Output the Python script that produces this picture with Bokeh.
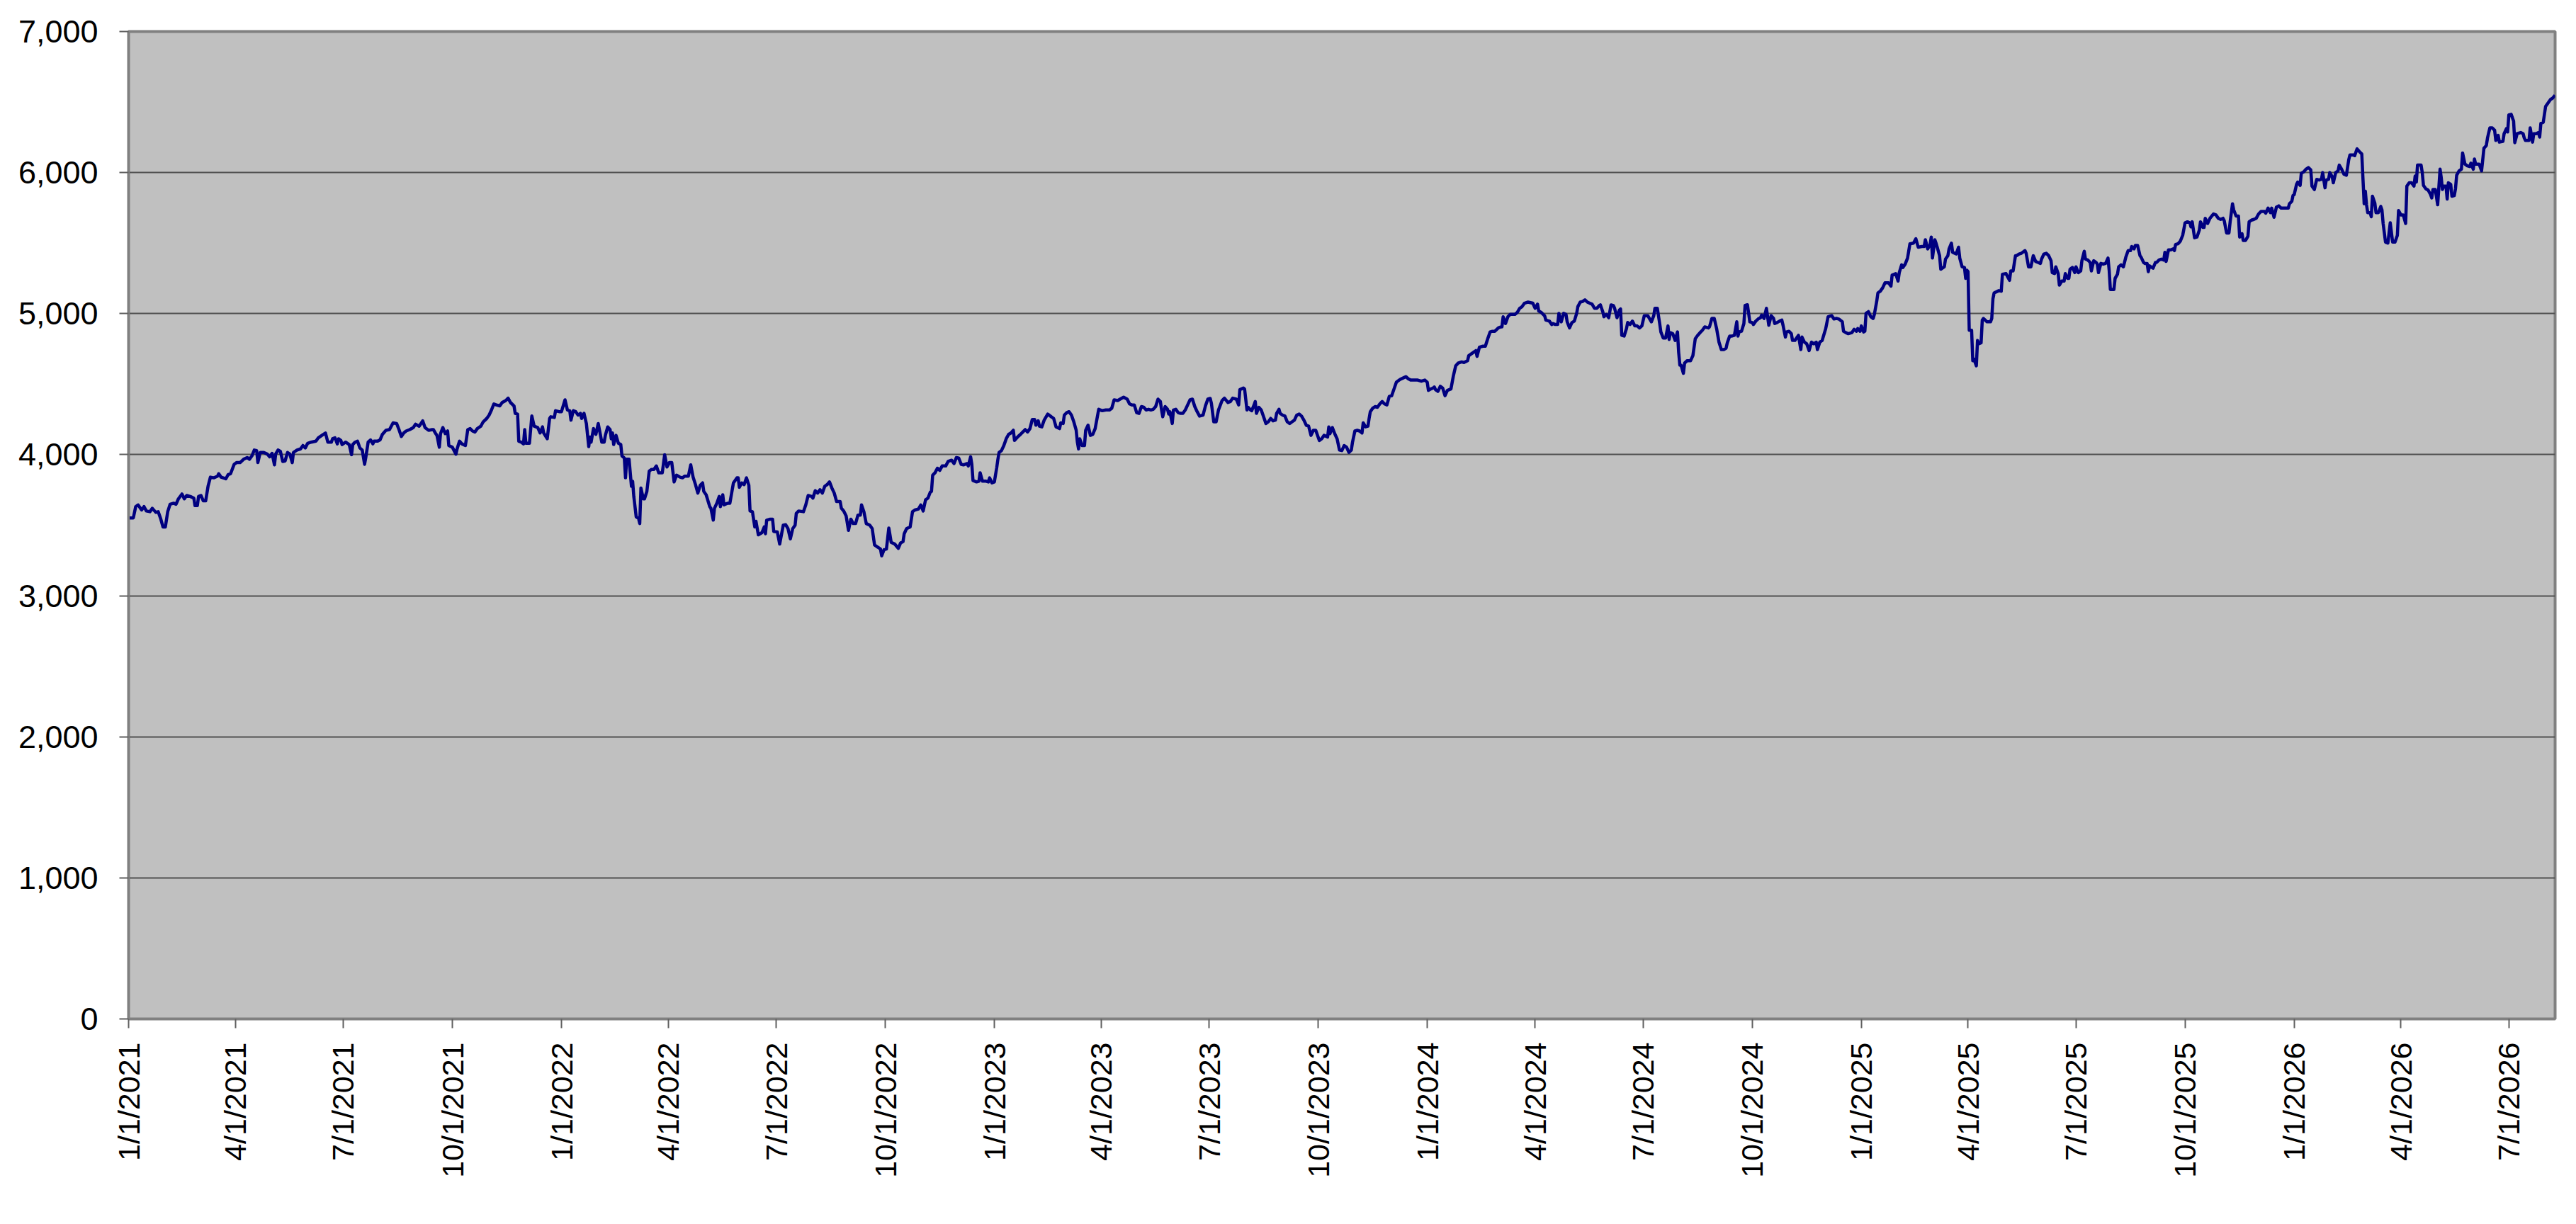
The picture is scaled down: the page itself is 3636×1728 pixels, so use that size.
import math
import pandas as pd
from bokeh.plotting import figure
from bokeh.models import Range1d, FixedTicker, NumeralTickFormatter, ColumnDataSource
from bokeh.embed import file_html
from bokeh.resources import INLINE

# ---------------- data ----------------
start_date = pd.Timestamp("2021-01-01")

# calendar days since start_date
days = [
    0, 4, 6, 8, 11, 13, 15, 18, 20, 23, 25, 27, 29, 31, 33, 35, 38, 40, 42, 45,
    47, 49, 52, 55, 56, 58, 59, 61, 63, 65, 67, 69, 72, 75, 76, 78, 82, 84, 86, 89,
    91, 94, 97, 100, 102, 104, 106, 108, 109, 111, 114, 117, 119, 121, 123, 124, 126, 128, 130, 132,
    134, 136, 138, 139, 142, 145, 147, 149, 151, 154, 158, 160, 163, 166, 168, 171, 172, 174, 176, 177,
    179, 180, 183, 186, 188, 189, 191, 193, 195, 197, 199, 200, 202, 204, 206, 207, 210, 212, 214, 217,
    220, 223, 226, 228, 230, 232, 234, 237, 240, 242, 245, 248, 250, 253, 256,
    257, 259, 260, 262, 263, 265, 267, 269, 270, 273, 276, 277, 279, 281, 284, 286, 288, 290, 292, 294,
    297, 299, 302, 304, 306, 308, 310, 313, 315, 318, 320, 322, 325, 326, 328, 329, 331, 333, 334, 335,
    338, 340, 342, 345, 347, 349, 350, 353, 355, 356, 359, 360, 363, 365, 368, 370, 372, 373, 375, 377,
    379, 381, 382, 384, 386, 388, 389, 390, 392, 394, 396, 399, 401, 402, 404, 406, 407, 408, 409, 411,
    413, 415, 416, 418, 419, 420, 422, 424, 425, 426, 428, 430, 431, 432, 434, 435, 437, 439, 441, 443,
    445, 447, 450, 452, 454, 456, 458, 460, 462, 465, 467, 469, 472, 474, 476, 478, 480, 482, 484, 485,
    487, 490, 491, 493, 494, 496, 498, 499, 501, 502, 505, 507, 510, 513,
    514, 515, 517, 519, 521, 523, 524, 526, 528, 529, 531, 534, 536, 537, 538, 541, 543, 544, 547, 549,
    552, 554, 556, 558, 560, 562, 563, 565, 569, 571, 573, 576, 577, 579, 581, 583, 585, 587, 589, 591,
    593, 595, 597, 600, 601, 603, 605, 607, 609, 611, 613, 615, 617, 618, 620, 622, 625, 627, 629, 632,
    634, 635, 637, 639, 641, 642, 643, 646, 649, 651, 653, 654, 656, 659, 661, 663, 666, 668, 670, 672,
    674, 676, 677, 678, 680, 682, 684, 686, 689, 691, 694, 696, 698, 700, 702, 704, 707, 708, 710, 711,
    712, 715, 717, 718, 720, 723, 725, 726, 728, 730, 732, 733, 734, 736, 738, 740, 742, 744, 746, 747,
    750, 752, 754, 756, 758, 760, 762, 764, 765, 767, 768, 770,
    772, 775, 778, 780, 782, 785, 786, 788, 789,
    791, 793, 795, 797, 799, 800, 801, 802, 804, 806, 807, 809, 811, 813, 815, 818, 821, 824, 827, 829,
    831, 834, 836, 839, 842, 844, 846, 848, 850, 852, 854, 856, 858, 860, 862, 864, 866, 868, 870, 871,
    872, 874, 876, 877, 878, 880, 881, 883, 885, 887, 889, 891, 893, 895, 897, 899, 901, 903, 906, 908,
    910, 912, 913, 915, 917, 919, 922, 924, 927, 929, 931, 934, 936, 937, 940, 941, 943, 944, 946, 947,
    949, 950, 951, 953, 955, 957, 959, 961, 963, 965, 967, 968, 970, 971, 973, 975, 977, 979, 981, 983,
    985, 987, 989, 991, 993, 995, 997, 999, 1001, 1004, 1006, 1008, 1011, 1012, 1013, 1015, 1017, 1019, 1021, 1023,
    1025, 1027,
    1029, 1031, 1032, 1034, 1036, 1038, 1040, 1041, 1043,
    1045, 1046, 1047, 1049, 1051, 1053, 1055, 1057, 1059, 1061, 1063, 1065, 1067, 1069, 1072, 1075, 1077, 1079, 1081, 1084,
    1087, 1090, 1093, 1095, 1096, 1098, 1100, 1101, 1102, 1104, 1106, 1108, 1110, 1112, 1115, 1117, 1119, 1121, 1124, 1126,
    1129, 1130, 1134, 1136, 1137, 1139, 1142, 1144, 1146, 1148, 1150, 1152, 1155, 1157, 1158, 1159, 1161, 1163, 1165, 1167,
    1169, 1171, 1173, 1175, 1177, 1180, 1184, 1186, 1188, 1189, 1191, 1194, 1195, 1198, 1200, 1201, 1203, 1205, 1206, 1208,
    1210, 1212, 1213, 1215, 1217, 1219, 1221, 1222, 1224, 1226, 1228, 1230, 1232, 1234, 1236, 1238, 1240, 1241, 1243, 1244,
    1246, 1248, 1250, 1252, 1253, 1255, 1257, 1258, 1259, 1261, 1263, 1264, 1266, 1268, 1270, 1272, 1274, 1276, 1278, 1281,
    1282, 1284,
    1286, 1287, 1289, 1291, 1292, 1294, 1296, 1298, 1299,
    1300, 1302, 1304, 1306, 1307, 1308, 1309, 1311, 1312, 1314, 1317, 1319, 1321, 1323, 1325, 1327, 1329, 1332, 1333, 1335,
    1337, 1339, 1341, 1343, 1345, 1347, 1348, 1350, 1352, 1354, 1356, 1357, 1358, 1360, 1362, 1363, 1365, 1367, 1369, 1370,
    1372, 1374, 1376, 1377, 1379, 1381, 1382, 1383, 1385, 1387, 1388, 1390, 1392, 1394, 1395, 1397, 1398, 1400, 1402, 1403,
    1405, 1407, 1408, 1410, 1411, 1413, 1415, 1417, 1419, 1421, 1423, 1424, 1426, 1428, 1431, 1433, 1436, 1438, 1440, 1442,
    1445, 1446, 1448, 1450, 1453, 1455, 1457, 1458, 1460, 1461, 1463, 1464, 1465, 1467, 1469, 1471, 1472, 1474, 1475, 1477,
    1479, 1481, 1484, 1486, 1487, 1490, 1492, 1493, 1495, 1496, 1498, 1500, 1502, 1505, 1507, 1509, 1512, 1514, 1515, 1517,
    1519, 1520, 1521, 1523, 1524, 1525, 1527, 1528, 1531, 1532, 1534, 1535, 1537, 1538, 1541,
    1543, 1544, 1546, 1548, 1549, 1550, 1551, 1552, 1554,
    1555, 1556, 1558, 1559, 1560, 1562, 1563, 1564, 1567, 1570, 1571, 1572, 1573, 1576, 1577, 1579, 1580, 1583, 1584, 1586,
    1587, 1589, 1591, 1592, 1594, 1596, 1599, 1600, 1602, 1604, 1606, 1608, 1610, 1612, 1613, 1615, 1617, 1619, 1621, 1622,
    1624, 1625, 1627, 1628, 1630, 1632, 1633, 1635, 1636, 1637, 1639, 1641, 1642, 1644, 1646, 1647, 1649, 1650, 1652, 1654,
    1655, 1657, 1659, 1660, 1661, 1663, 1665, 1667, 1669, 1670, 1671, 1674, 1675, 1677, 1678, 1680, 1682, 1684, 1686, 1688,
    1689, 1691, 1692, 1694, 1696, 1697, 1699, 1700, 1702, 1703, 1704, 1706, 1707, 1709, 1710, 1712, 1714, 1716, 1717, 1718,
    1720, 1722, 1724, 1725, 1726, 1728, 1730, 1732, 1734, 1736, 1738, 1739, 1740, 1742, 1744, 1746, 1747, 1749, 1750, 1751,
    1753, 1755, 1758, 1760, 1762, 1764, 1766, 1767, 1769, 1771, 1772, 1774, 1775, 1777, 1779, 1780, 1782, 1783, 1785, 1787,
    1788, 1790, 1792, 1794, 1796, 1798,
    1801, 1802, 1804, 1806, 1807, 1809, 1811, 1813, 1815,
    1818, 1821, 1822, 1824, 1825, 1826, 1828, 1829, 1831, 1832, 1834, 1836, 1838, 1840, 1841, 1843, 1845, 1847, 1849, 1850,
    1852, 1853, 1855, 1856, 1858, 1859, 1861, 1863, 1864, 1866, 1868, 1870, 1872, 1873, 1876, 1877, 1879, 1881, 1883, 1885,
    1886, 1887, 1888, 1890, 1891, 1892, 1894, 1895, 1897, 1899, 1900, 1901, 1903, 1905, 1906, 1907, 1909, 1911, 1913, 1914,
    1916, 1918, 1920, 1921, 1923, 1925, 1927, 1928, 1929, 1930, 1933, 1934, 1935, 1937, 1939, 1941, 1942, 1943, 1945, 1947,
    1949, 1950, 1951, 1952, 1954, 1955, 1956, 1958, 1959, 1961, 1962, 1963, 1965, 1967, 1968, 1970, 1972, 1974, 1975, 1977,
    1978, 1979, 1982, 1983, 1984, 1986, 1988, 1989, 1991, 1993, 1995, 1996, 1998, 1999, 2002, 2003, 2005, 2006, 2007, 2009,
    2011, 2012, 2014, 2017, 2019, 2020, 2021, 2024, 2025, 2027, 2028, 2030, 2032, 2033, 2034, 2036, 2038, 2040, 2042, 2044,
    2046,
]

level = [
    3552, 3552, 3632, 3644, 3608, 3632, 3601, 3596, 3620, 3591, 3596, 3548, 3488, 3488, 3596, 3649, 3656, 3649, 3687, 3721,
    3687, 3711, 3704, 3692, 3639, 3639, 3704, 3711, 3673, 3673, 3776, 3841, 3836, 3848, 3865, 3841, 3829, 3860, 3865, 3932,
    3944, 3944, 3968, 3980, 3968, 3992, 4033, 4029, 3944, 4016, 4016, 4004, 3985, 4009, 3928, 4004, 4033, 4024, 3952, 3956,
    4016, 4004, 3944, 4016, 4033, 4041, 4065, 4048, 4081, 4089, 4096, 4120, 4137, 4154, 4089, 4089, 4113, 4120, 4077, 4113,
    4101, 4072, 4089, 4072, 4000, 4072, 4089, 4096, 4048, 4033, 3932, 3980, 4089, 4105, 4077, 4096, 4096, 4105, 4144, 4173,
    4178, 4226, 4221, 4178, 4129, 4154, 4168, 4178, 4192, 4216, 4202, 4240, 4192, 4173, 4178,
    4178, 4149, 4137, 4053, 4149, 4192, 4149, 4168, 4065, 4053, 4004, 4041, 4096, 4077, 4065, 4178, 4185, 4168, 4161, 4185,
    4202, 4233, 4257, 4281, 4317, 4360, 4353, 4346, 4370, 4384, 4401, 4370, 4346, 4293, 4288, 4096, 4089, 4077, 4178, 4081,
    4081, 4274, 4202, 4192, 4154, 4197, 4154, 4113, 4257, 4269, 4264, 4312, 4305, 4305, 4389, 4317, 4312, 4245, 4312, 4305,
    4281, 4293, 4257, 4293, 4221, 4057, 4125, 4089, 4185, 4144, 4221, 4089, 4089, 4137, 4197, 4178, 4113, 4154, 4072, 4137,
    4081, 4072, 3992, 3976, 3836, 3968, 3968, 3776, 3812, 3704, 3560, 3548, 3512, 3764, 3687, 3687, 3740, 3884, 3896, 3896,
    3920, 3872, 3872, 4000, 3913, 3944, 3944, 3807, 3855, 3841, 3836, 3848, 3848, 3928, 3841, 3788, 3728, 3783, 3800, 3740,
    3716, 3632, 3620, 3536, 3620, 3656, 3704, 3632, 3716, 3644, 3656, 3656, 3800, 3836,
    3836, 3769, 3800, 3788, 3836, 3783, 3601, 3596, 3488, 3528, 3432, 3447, 3488, 3440, 3536, 3543, 3543, 3456, 3452, 3367,
    3500, 3504, 3476, 3403, 3476, 3500, 3584, 3601, 3596, 3644, 3711, 3704, 3692, 3745, 3728, 3752, 3728, 3776, 3788, 3807,
    3764, 3728, 3668, 3668, 3620, 3601, 3567, 3464, 3543, 3512, 3512, 3572, 3572, 3644, 3596, 3512, 3500, 3476, 3360, 3343,
    3331, 3283, 3327, 3331, 3480, 3432, 3379, 3367, 3336, 3375, 3384, 3440, 3476, 3488, 3596, 3608, 3615, 3644, 3601, 3680,
    3692, 3735, 3740, 3855, 3872, 3904, 3889, 3920, 3920, 3952, 3961, 3937, 3980, 3976, 3932, 3928, 3937, 3920, 3985, 3932,
    3817, 3807, 3812, 3872, 3812, 3812, 3807, 3836, 3800, 3807, 3908, 3968, 4016, 4029, 4065, 4113, 4144, 4154, 4173, 4101,
    4129, 4144, 4161, 4178, 4161, 4185, 4250, 4250, 4209, 4240, 4202, 4197,
    4245, 4288, 4269, 4257, 4197, 4185, 4226, 4221, 4281,
    4298, 4305, 4281, 4233, 4173, 4089, 4041, 4113, 4065, 4065, 4173, 4209, 4137, 4144, 4185, 4322, 4312, 4317, 4317, 4329,
    4389, 4384, 4394, 4408, 4394, 4360, 4353, 4353, 4298, 4293, 4341, 4336, 4317, 4322, 4317, 4322, 4341, 4394, 4377, 4317,
    4269, 4341, 4322, 4288, 4305, 4221, 4317, 4322, 4298, 4293, 4293, 4317, 4353, 4389, 4394, 4341, 4305, 4274, 4281, 4346,
    4394, 4399, 4365, 4233, 4233, 4317, 4384, 4401, 4370, 4377, 4401, 4394, 4353, 4461, 4473, 4466, 4317, 4336, 4317, 4312,
    4353, 4377, 4293, 4336, 4317, 4269, 4221, 4233, 4257, 4240, 4245, 4293, 4322, 4293, 4281, 4274, 4233, 4221, 4233, 4245,
    4281, 4288, 4274, 4245, 4209, 4202, 4137, 4173, 4173, 4101, 4113, 4137, 4125, 4197, 4149, 4192, 4149, 4113, 4033, 4029,
    4065, 4053,
    4016, 4033, 4089, 4168, 4173, 4168, 4154, 4226, 4197,
    4202, 4257, 4305, 4329, 4341, 4336, 4360, 4377, 4360, 4353, 4413, 4418, 4466, 4514, 4533, 4545, 4553, 4538, 4529, 4529,
    4529, 4521, 4529, 4514, 4456, 4466, 4473, 4480, 4461, 4449, 4485, 4473, 4418, 4456, 4466, 4557, 4630, 4649, 4658, 4654,
    4666, 4702, 4726, 4738, 4697, 4762, 4769, 4769, 4822, 4870, 4875, 4875, 4899, 4906, 4906, 4978, 4930, 4978, 4995, 4995,
    4995, 5009, 5038, 5050, 5074, 5082, 5074, 5038, 5067, 5019, 5009, 4985, 4954, 4947, 4923, 4930, 4923, 4923, 5002, 4942,
    5002, 4995, 4942, 4899, 4937, 4947, 5002, 5050, 5082, 5086, 5098, 5082, 5074, 5067, 5038, 5038, 5057, 5062, 5014, 4978,
    4995, 4971, 5062, 5057, 5038, 4971, 5026, 5033, 4846, 4841, 4894, 4937, 4923, 4947, 4913, 4913, 4899, 4913, 4985, 4985,
    4971, 4942,
    4986, 5038, 5038, 4930, 4870, 4827, 4827, 4913, 4817,
    4865, 4858, 4810, 4870, 4726, 4635, 4635, 4577, 4649, 4666, 4666, 4702, 4822, 4846, 4865, 4882, 4906, 4899, 4906, 4966,
    4966, 4894, 4798, 4745, 4745, 4755, 4793, 4841, 4841, 4846, 4942, 4841, 4870, 4875, 4930, 5058, 5063, 4942, 4937, 4923,
    4947, 4962, 4971, 4990, 4966, 5038, 4978, 4918, 4986, 4966, 4930, 4937, 4947, 4954, 4918, 4834, 4870, 4875, 4858, 4810,
    4810, 4834, 4846, 4745, 4834, 4798, 4786, 4738, 4798, 4786, 4798, 4745, 4798, 4810, 4894, 4978, 4986, 4962, 4966, 4962,
    4942, 4875, 4865, 4858, 4865, 4889, 4875, 4894, 4875, 4913, 4870, 4875, 5002, 5014, 4978, 4966, 4995, 5087, 5147, 5159,
    5183, 5219, 5219, 5195, 5274, 5284, 5231, 5291, 5346, 5327, 5351, 5394, 5495, 5500, 5531, 5471, 5476, 5476, 5524, 5459,
    5490, 5543, 5394, 5524, 5500, 5471, 5411, 5315, 5332, 5387, 5411, 5459, 5500, 5435, 5423,
    5471, 5394, 5332, 5327, 5250, 5308, 5298, 4882, 4882,
    4666, 4678, 4630, 4810, 4786, 4793, 4954, 4966, 4942, 4942, 4966, 5106, 5147, 5159, 5163, 5159, 5279, 5284, 5267, 5236,
    5303, 5303, 5411, 5411, 5423, 5428, 5447, 5428, 5332, 5332, 5411, 5370, 5363, 5356, 5387, 5423, 5428, 5411, 5375, 5291,
    5284, 5332, 5284, 5202, 5231, 5231, 5284, 5250, 5250, 5315, 5327, 5291, 5332, 5291, 5303, 5375, 5442, 5387, 5380, 5363,
    5303, 5375, 5363, 5351, 5291, 5356, 5351, 5356, 5394, 5308, 5171, 5171, 5250, 5279, 5332, 5346, 5332, 5399, 5447, 5447,
    5476, 5459, 5483, 5483, 5411, 5399, 5363, 5356, 5356, 5298, 5339, 5327, 5322, 5363, 5363, 5380, 5387, 5380, 5435, 5370,
    5452, 5452, 5459, 5447, 5490, 5495, 5514, 5555, 5644, 5651, 5644, 5615, 5651, 5538, 5543, 5591, 5651, 5611, 5611, 5676,
    5639, 5676, 5707, 5700, 5676, 5668, 5676, 5659, 5572, 5572, 5651, 5779, 5736, 5692, 5692, 5543, 5567, 5519, 5519, 5548,
    5651, 5663, 5668, 5676, 5707, 5724,
    5724, 5712, 5748, 5716, 5748, 5683, 5755, 5764, 5748,
    5748, 5748, 5779, 5796, 5837, 5844, 5916, 5933, 5909, 5995, 6005, 6024, 6036, 6019, 5904, 5880, 5952, 5947, 5952, 6000,
    5892, 5947, 5952, 6000, 5971, 5928, 6000, 6012, 6053, 6024, 5988, 5981, 6091, 6125, 6125, 6120, 6168, 6149, 6132, 5779,
    5868, 5772, 5716, 5716, 5687, 5832, 5784, 5716, 5716, 5760, 5736, 5639, 5507, 5500, 5572, 5644, 5507, 5507, 5555, 5731,
    5700, 5700, 5639, 5904, 5928, 5928, 5904, 5976, 5933, 6053, 6053, 6000, 5909, 5885, 5875, 5844, 5820, 5880, 5880, 5772,
    6024, 5964, 5880, 5904, 5904, 5812, 5928, 5916, 5832, 5837, 5885, 5981, 6012, 6024, 6139, 6060, 6048, 6043, 6067, 6024,
    6096, 6060, 6060, 6036, 6012, 6173, 6192, 6245, 6317, 6317, 6300, 6228, 6264, 6216, 6221, 6276, 6312, 6288, 6409, 6413,
    6365, 6212, 6276, 6284, 6276, 6245, 6228, 6228, 6317, 6216, 6276, 6276, 6284, 6252, 6349, 6356, 6469, 6493, 6517, 6529,
    6548,
]

x_tick_labels = [
    "1/1/2021", "4/1/2021", "7/1/2021", "10/1/2021",
    "1/1/2022", "4/1/2022", "7/1/2022", "10/1/2022",
    "1/1/2023", "4/1/2023", "7/1/2023", "10/1/2023",
    "1/1/2024", "4/1/2024", "7/1/2024", "10/1/2024",
    "1/1/2025", "4/1/2025", "7/1/2025", "10/1/2025",
    "1/1/2026", "4/1/2026", "7/1/2026",
]
y_ticks = [0, 1000, 2000, 3000, 4000, 5000, 6000, 7000]
x_end_day = 2046

n = min(len(days), len(level))
source = ColumnDataSource(data=dict(day=days[:n], level=level[:n]))

tick_pos = [int((pd.to_datetime(lbl, format="%m/%d/%Y") - start_date).days) for lbl in x_tick_labels]

# ---------------- figure ----------------
p = figure(
    width=3620, height=1712,
    output_backend="svg", toolbar_location=None,
    x_range=Range1d(0, x_end_day), y_range=Range1d(0, 7000),
    min_border_left=181, min_border_right=14, min_border_top=44, min_border_bottom=274,
)
p.background_fill_color = "#C0C0C0"
p.border_fill_color = "white"
p.outline_line_color = "#808080"
p.outline_line_width = 4

p.xgrid.visible = False
p.ygrid.ticker = FixedTicker(ticks=y_ticks)
p.ygrid.grid_line_color = "#505050"
p.ygrid.grid_line_width = 2

# y axis
p.yaxis.ticker = FixedTicker(ticks=y_ticks)
p.yaxis.formatter = NumeralTickFormatter(format="0,0")
p.yaxis.major_label_text_font = "Liberation Sans"
p.yaxis.major_label_text_font_size = "45px"
p.yaxis.major_label_text_color = "black"
p.yaxis.major_label_standoff = 30
p.yaxis.minor_tick_line_color = None

# x axis
p.xaxis.ticker = FixedTicker(ticks=tick_pos)
p.xaxis.major_label_overrides = {pos: lbl for pos, lbl in zip(tick_pos, x_tick_labels)}
p.xaxis.major_label_orientation = math.pi / 2
p.xaxis.major_label_text_font = "Liberation Sans"
p.xaxis.major_label_text_font_size = "43px"
p.xaxis.major_label_text_color = "black"
p.xaxis.major_label_standoff = 20
p.xaxis.minor_tick_line_color = None

for ax in (p.xaxis, p.yaxis):
    ax.axis_line_color = "#808080"
    ax.axis_line_width = 3
    ax.major_tick_line_color = "#606060"
    ax.major_tick_line_width = 2
    ax.major_tick_out = 13
    ax.major_tick_in = 0

p.line(x="day", y="level", source=source, line_color="#000080", line_width=4.5, line_join="round")

open("out.html", "w").write(file_html(p, INLINE))
